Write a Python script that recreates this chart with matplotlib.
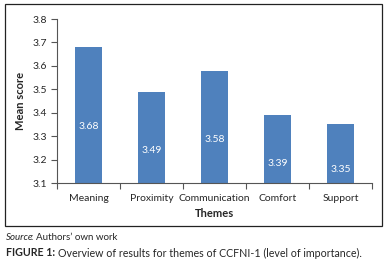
import matplotlib
matplotlib.use("Agg")
import matplotlib.pyplot as plt
from matplotlib.patches import Rectangle
from matplotlib.ticker import FixedLocator, NullFormatter, FixedFormatter
import numpy as np

categories = ["Meaning", "Proximity", "Communication", "Comfort", "Support"]
values = [3.68, 3.49, 3.58, 3.39, 3.35]
y_ticks = [3.1, 3.2, 3.3, 3.4, 3.5, 3.6, 3.7, 3.8]

plt.rcParams['font.family'] = ['Lato', 'DejaVu Sans']
txt = '#262626'
bar_color = '#4F81BD'

fig = plt.figure(figsize=(3.88, 2.66), dpi=100)
ax = fig.add_axes([57/388, 83/266, 315/388, 164/266])

x = np.arange(len(categories))
ax.bar(x, values, width=0.43, color=bar_color, zorder=2)
for xi, v in zip(x, values):
    ly = 3.159 + 0.557 * (v - 3.35)
    ax.text(xi, ly, f"{v:.2f}", ha='center', va='center', color='white', fontsize=7.5)

ax.set_xlim(-0.5, len(categories) - 0.5)
ax.set_ylim(3.1, 3.8)
ax.set_yticks(y_ticks)
ax.set_yticklabels([f"{t:.1f}" for t in y_ticks])
ax.xaxis.set_major_locator(FixedLocator(np.arange(-0.5, len(categories), 1.0)))
ax.xaxis.set_major_formatter(NullFormatter())
ax.xaxis.set_minor_locator(FixedLocator(x))
ax.xaxis.set_minor_formatter(FixedFormatter(categories))
ax.tick_params(axis='x', which='major', length=4, width=0.8, color='#555555', direction='out')
ax.tick_params(axis='x', which='minor', length=0, pad=8, labelsize=7.5, labelcolor=txt)
ax.tick_params(axis='y', length=4, width=0.8, color='#555555', pad=3, labelsize=7.5, labelcolor=txt)

for s in ['top', 'right']:
    ax.spines[s].set_visible(False)
for s in ['left', 'bottom']:
    ax.spines[s].set_color('#555555')
    ax.spines[s].set_linewidth(0.8)

ax.set_xlabel("Themes", fontsize=8, fontweight='bold', color=txt)
ax.xaxis.set_label_coords(0.5, -0.185)
ax.xaxis.label.set_va('center')
ax.set_ylabel("Mean score", fontsize=8, fontweight='bold', color=txt)
ax.yaxis.set_label_coords(-0.117, 0.5)
ax.yaxis.label.set_va('center')

fig.patches.append(Rectangle((5/388, 40/266), 377/388, 222/266, transform=fig.transFigure,
                             fill=False, edgecolor='#222222', linewidth=0.9))

t1 = fig.text(6/388, 1 - 238/266, "Source", fontsize=7, style='italic', color=txt, va='center')
fig.texts.append(matplotlib.text.Annotation(": Authors\u2019 own work", xy=(1, 0.5), xycoords=t1,
                 xytext=(-1.5, 0), textcoords='offset points',
                 va='center', ha='left', fontsize=7, color=txt))
t2 = fig.text(6/388, 1 - 253/266, "FIGURE 1:", fontsize=7.7, fontweight='bold', color=txt, va='center')
ann = matplotlib.text.Annotation("Overview of results for themes of CCFNI-1 (level of importance).",
                                 xy=(1, 0.5), xycoords=t2, xytext=(2, 0), textcoords='offset points',
                                 va='center', ha='left', fontsize=7.7, color=txt)
fig.texts.append(ann)
for t in fig.texts:
    t.set_figure(fig)

fig.savefig("out.png", dpi=100)
